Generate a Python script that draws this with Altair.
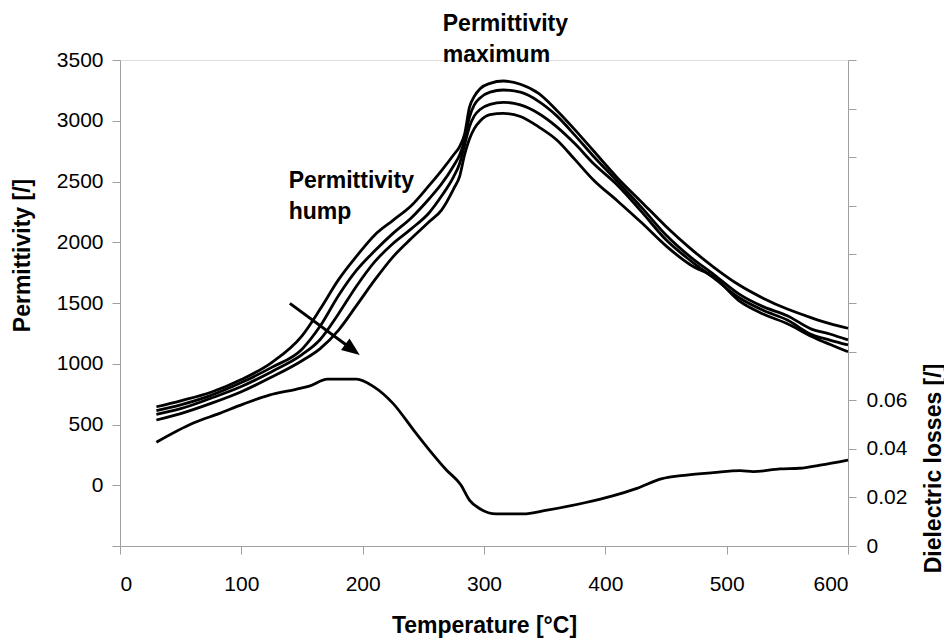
import altair as alt
import pandas as pd

# ---- data ----
temps = [30, 50, 75, 100, 125, 150, 165, 180, 195, 210, 225, 240, 255, 265, 275, 280,
         284, 288, 292, 297, 305, 316, 330, 345, 360, 375, 390, 410, 430, 450, 470,
         490, 510, 530, 550, 570, 585, 600]

perm_1 = [646, 695, 765, 870, 1010, 1230, 1450, 1690, 1885, 2060, 2180, 2300, 2470, 2590,
          2720, 2790, 2890, 3110, 3200, 3265, 3308, 3327, 3300, 3225, 3085, 2925, 2755,
          2530, 2330, 2130, 1950, 1790, 1650, 1540, 1450, 1378, 1330, 1292]
perm_2 = [614, 662, 740, 845, 970, 1120, 1310, 1560, 1770, 1930, 2073, 2200, 2360, 2480,
          2630, 2720, 2840, 3030, 3130, 3190, 3235, 3253, 3235, 3160, 3040, 2880, 2710,
          2500, 2285, 2060, 1880, 1730, 1575, 1470, 1395, 1285, 1245, 1196]
perm_3 = [584, 630, 716, 812, 935, 1075, 1200, 1410, 1640, 1840, 1990, 2110, 2245, 2380,
          2540, 2650, 2800, 2950, 3040, 3095, 3135, 3152, 3130, 3060, 2950, 2810, 2650,
          2470, 2250, 2020, 1850, 1700, 1545, 1440, 1360, 1240, 1195, 1155]
perm_4 = [537, 590, 674, 770, 890, 1025, 1125, 1275, 1480, 1690, 1880, 2030, 2170, 2265,
          2440, 2545, 2720, 2850, 2935, 3000, 3050, 3061, 3035, 2950, 2842, 2680, 2515,
          2340, 2160, 1970, 1815, 1710, 1520, 1410, 1330, 1225, 1160, 1099]

loss_temps = [30, 60, 82, 101, 123, 145, 156, 171, 195, 209, 225, 242, 255, 269, 281, 288,
              297, 310, 332, 352, 383, 406, 426, 446, 467, 489, 511, 522, 544, 560, 577, 600]
loss_vals = [0.0427, 0.0505, 0.0546, 0.0583, 0.0621, 0.0645, 0.0658, 0.0687, 0.0687,
             0.0656, 0.0587, 0.0477, 0.0395, 0.0313, 0.0251, 0.0189, 0.0152, 0.0132,
             0.0132, 0.0148, 0.0178, 0.0206, 0.0237, 0.0276, 0.0292, 0.0302, 0.0310,
             0.0306, 0.0317, 0.0320, 0.0333, 0.0354]

note_labels = ["Permittivity\nmaximum", "Permittivity\nhump"]
note_t = [266, 139]
note_p = [3741, 2444]

arrow_start = (140, 1497)
arrow_shaft_end = (191, 1121)
arrow_tip = (197.6, 1072)

x_ticks = [0, 100, 200, 300, 400, 500, 600]
left_ticks = [-500, 0, 500, 1000, 1500, 2000, 2500, 3000, 3500]
right_ticks = [round(i * 0.02, 2) for i in range(11)]

# ---- tables ----
rows = []
for name, vals in [("c1", perm_1), ("c2", perm_2), ("c3", perm_3), ("c4", perm_4)]:
    for t, v in zip(temps, vals):
        rows.append({"T": t, "P": v, "curve": name})
perm_df = pd.DataFrame(rows)
loss_df = pd.DataFrame({"T": loss_temps, "L": loss_vals})
note_df = pd.DataFrame({"T": note_t, "P": note_p, "label": note_labels})
shaft_df = pd.DataFrame({"T": [arrow_start[0]], "P": [arrow_start[1]],
                         "T2": [arrow_shaft_end[0]], "P2": [arrow_shaft_end[1]]})
tip_df = pd.DataFrame({"T": [arrow_tip[0]], "P": [arrow_tip[1]]})

FONT = "Liberation Sans"
AX = "#a0a0a0"
LBL = 21

x_scale = alt.Scale(domain=[0, 600], nice=False, zero=False)
x_axis = alt.Axis(title="Temperature [°C]", values=x_ticks, grid=False, format="d",
                  tickSize=8, labelPadding=19, labelFontSize=LBL, labelColor="black",
                  titleFontSize=23, titleFontWeight="bold", titleColor="black",
                  titleBaseline="alphabetic", titleY=86,
                  domainColor=AX, tickColor=AX, labelFont=FONT, titleFont=FONT)

y_scale = alt.Scale(domain=[-500, 3500], nice=False, zero=False)
y_axis = alt.Axis(title="Permittivity [/]", values=left_ticks, grid=False,
                  labelExpr="datum.value < 0 ? '' : format(datum.value, 'd')",
                  tickSize=8, labelPadding=9, labelFontSize=LBL, labelColor="black",
                  titleFontSize=23, titleFontWeight="bold", titleColor="black",
                  titleAngle=270, titleBaseline="alphabetic", titleX=-91, titleY=195,
                  domainColor=AX, tickColor=AX, labelFont=FONT, titleFont=FONT)

r_scale = alt.Scale(domain=[0, 0.2], nice=False, zero=False)
r_axis = alt.Axis(title="Dielectric losses [/]", orient="right", values=right_ticks,
                  grid=False,
                  labelExpr="datum.value > 0.065 ? '' : (datum.value == 0 ? '0' : format(datum.value, '.2f'))",
                  tickSize=8, labelPadding=10, labelFontSize=LBL, labelColor="black",
                  titleFontSize=23, titleFontWeight="bold", titleColor="black",
                  titleAngle=270, titleBaseline="alphabetic", titleX=92, titleY=408,
                  domainColor=AX, tickColor=AX, labelFont=FONT, titleFont=FONT)

X = alt.X("T:Q", scale=x_scale, axis=x_axis)
Y = alt.Y("P:Q", scale=y_scale, axis=y_axis)

perm_lines = alt.Chart(perm_df).mark_line(
    color="black", strokeWidth=2.8, interpolate="monotone"
).encode(x=X, y=Y, detail="curve:N")

notes = alt.Chart(note_df).mark_text(
    align="left", baseline="alphabetic", font=FONT, fontSize=23, fontWeight="bold",
    lineBreak="\n", lineHeight=31, color="black"
).encode(x=X, y=Y, text="label:N")

shaft = alt.Chart(shaft_df).mark_rule(color="black", strokeWidth=3).encode(
    x=X, y=Y, x2="T2:Q", y2="P2:Q")

head = alt.Chart(tip_df).mark_point(
    shape="M0,0L-1,-0.4L-1,0.4Z", filled=True, size=1296, angle=36.4,
    color="black", opacity=1, strokeWidth=0
).encode(x=X, y=Y)

left_group = alt.layer(perm_lines, notes, shaft, head)

loss_line = alt.Chart(loss_df).mark_line(
    color="black", strokeWidth=2.8, interpolate="monotone"
).encode(x=X, y=alt.Y("L:Q", scale=r_scale, axis=r_axis))

chart = alt.layer(left_group, loss_line).resolve_scale(y="independent").properties(
    width=728, height=486,
    padding={"left": 120, "top": 60, "right": 96, "bottom": 93},
    autosize=alt.AutoSizeParams(type="none"),
    background="white",
).configure_view(stroke=None).configure(font=FONT)

chart.save("out.html", embed_options={"renderer": "svg", "actions": False})
